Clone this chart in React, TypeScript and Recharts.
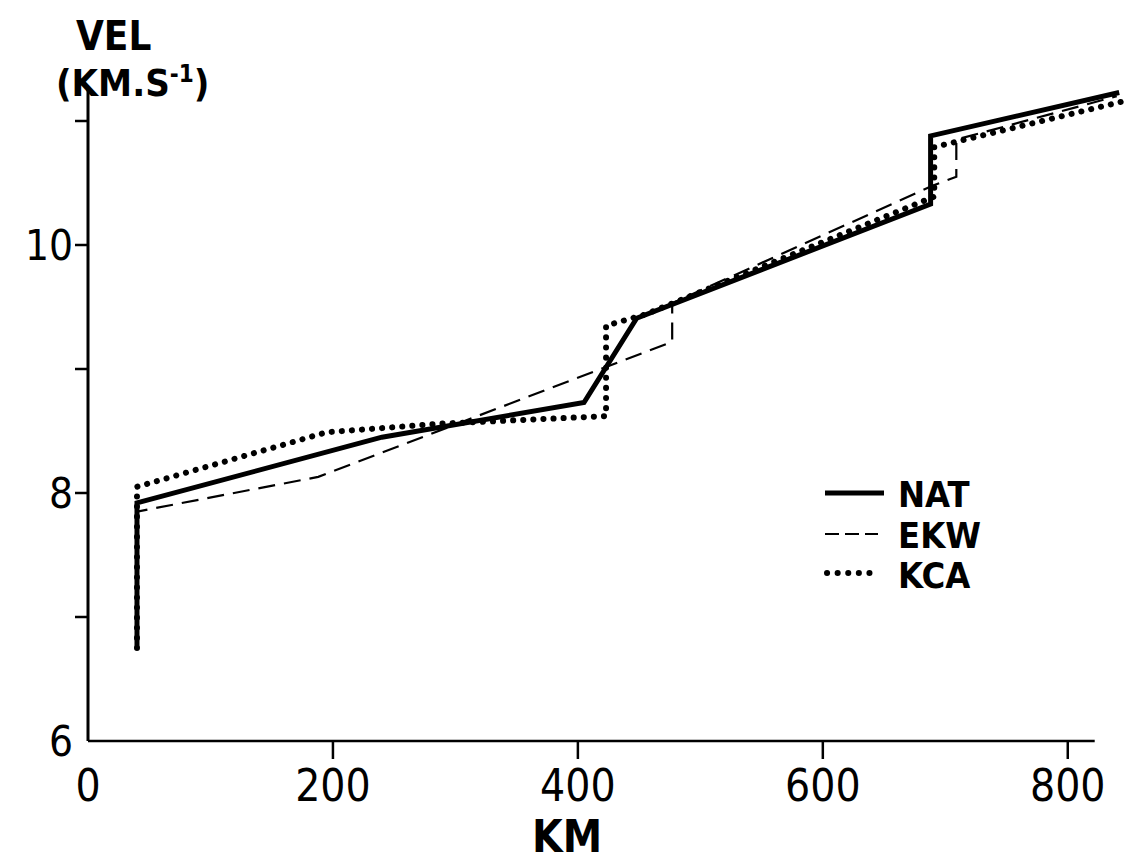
import { LineChart, Line, XAxis, YAxis, ReferenceLine } from 'recharts'

// velocity-depth profiles, km vs km/s
const natKm = [40, 40, 240, 405, 448, 688, 688, 842]
const natVel = [6.75, 7.92, 8.45, 8.73, 9.41, 10.33, 10.88, 11.23]

const ekwKm = [40, 40, 188, 477, 477, 690, 709, 709, 840]
const ekwVel = [6.75, 7.85, 8.13, 9.22, 9.53, 10.48, 10.55, 10.85, 11.2]

const kcaKm = [40, 40, 195, 290, 423, 423, 455, 691, 691, 850]
const kcaVel = [6.75, 8.05, 8.49, 8.56, 8.62, 9.35, 9.44, 10.39, 10.79, 11.17]

const xTicks = [0, 200, 400, 600, 800]
const yTicks = [6, 7, 8, 9, 10, 11]

const zip = (km: number[], vel: number[]) => km.map((k, i) => ({ km: k, vel: vel[i] }))

const nat = zip(natKm, natVel)
const ekw = zip(ekwKm, ekwVel)
const kca = zip(kcaKm, kcaVel)

const font = "'Liberation Sans Narrow', 'DejaVu Sans Condensed', 'Roboto Condensed', 'Liberation Sans', Arial, sans-serif"

const YTick = ({ x, y, payload }: any) => (
  <g>
    {payload.value !== 6 && <line x1={x - 13} x2={x} y1={y} y2={y} stroke="#000" strokeWidth={2.5} />}
    {payload.value % 2 === 0 && (
      <text x={x - 15} y={y} dy="0.36em" textAnchor="end" fontSize={42} fontFamily={font} fill="#000">
        {payload.value}
      </text>
    )}
  </g>
)

const XTick = ({ x, y, payload }: any) => (
  <g>
    {payload.value !== 0 && <line x1={x} x2={x} y1={y} y2={y + 18} stroke="#000" strokeWidth={2.5} />}
    <text x={x} y={y + 29} dy="0.71em" textAnchor="middle" fontSize={44} fontFamily={font} fill="#000">
      {payload.value}
    </text>
  </g>
)

export default function App() {
  return (
    <div style={{ position: 'relative', width: 1135, height: 861, background: '#fff' }}>
      <style>{'body{margin:0;overflow:hidden;background:#fff}'}</style>
      <LineChart width={1135} height={861} margin={{ top: 90, right: 6, left: 0, bottom: 30 }}>
        <XAxis
          type="number"
          dataKey="km"
          domain={[0, 850]}
          ticks={xTicks}
          axisLine={false}
          tickLine={false}
          tickSize={0}
          tickMargin={0}
          tick={<XTick />}
          height={90}
          interval={0}
        />
        <YAxis
          type="number"
          dataKey="vel"
          domain={[6, 11.25]}
          ticks={yTicks}
          axisLine={{ stroke: '#000', strokeWidth: 3 }}
          tickLine={false}
          tickSize={0}
          tickMargin={0}
          tick={<YTick />}
          width={88}
          interval={0}
        />
        <ReferenceLine
          segment={[{ x: 0, y: 6 }, { x: 822, y: 6 }]}
          stroke="#000"
          strokeWidth={2.5}
        />
        <Line data={ekw} dataKey="vel" type="linear" stroke="#000" strokeWidth={2.2} strokeDasharray="17 9" dot={false} isAnimationActive={false} />
        <Line data={kca} dataKey="vel" type="linear" stroke="#000" strokeWidth={6} strokeLinecap="round" strokeDasharray="0.1 10" dot={false} isAnimationActive={false} />
        <Line data={nat} dataKey="vel" type="linear" stroke="#000" strokeWidth={5} dot={false} isAnimationActive={false} />
      </LineChart>
      <svg width={1135} height={861} style={{ position: 'absolute', left: 0, top: 0, pointerEvents: 'none' }}>
        <g fontFamily={font} fontWeight="bold" fill="#000">
          <text x={76} y={50} fontSize={40}>VEL</text>
          <text x={56} y={96} fontSize={38}>
            (KM.S<tspan fontSize={24} dy={-14}>-1</tspan><tspan dy={14}>)</tspan>
          </text>
          <text x={567} y={852} fontSize={44} textAnchor="middle">KM</text>
          <line x1={825} x2={884} y1={493} y2={493} stroke="#000" strokeWidth={5} />
          <line x1={825} x2={878} y1={534} y2={534} stroke="#000" strokeWidth={2.2} strokeDasharray="14 6" />
          <line x1={827} x2={880} y1={573} y2={573} stroke="#000" strokeWidth={6} strokeLinecap="round" strokeDasharray="0.1 10.5" />
          <text x={898} y={507} fontSize={36}>NAT</text>
          <text x={898} y={548} fontSize={36}>EKW</text>
          <text x={898} y={588} fontSize={36}>KCA</text>
        </g>
      </svg>
    </div>
  )
}
